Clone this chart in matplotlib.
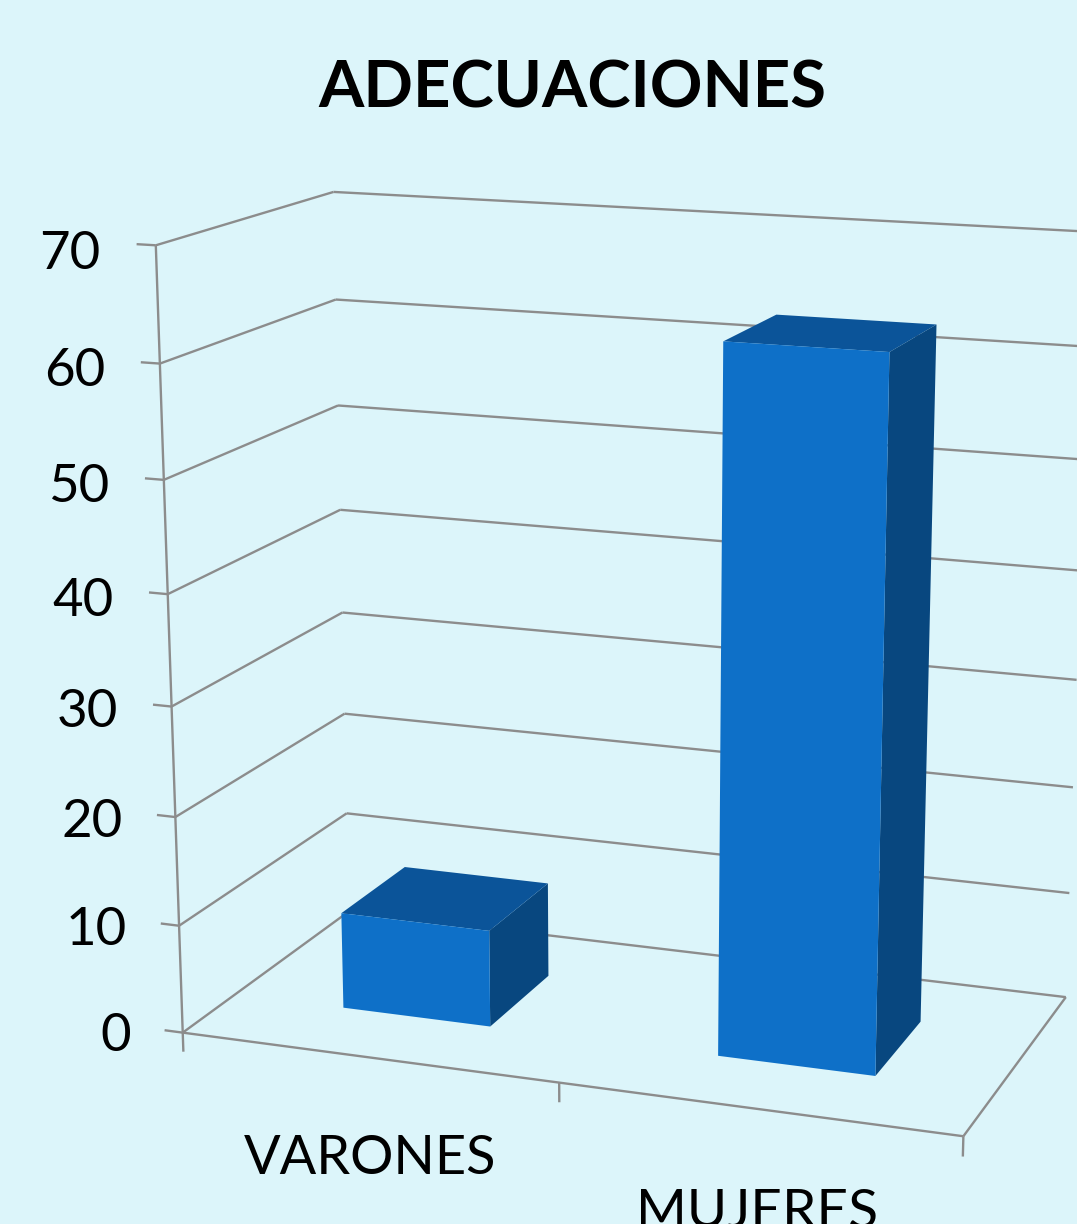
import matplotlib
matplotlib.use('Agg')
import matplotlib.pyplot as plt
import numpy as np
from mpl_toolkits.mplot3d.art3d import Line3DCollection

categories = ['VARONES', 'MUJERES']
values = [9, 63]
z_ticks = [0, 10, 20, 30, 40, 50, 60, 70]

bg = '#DCF5FA'
grid_col = '#8C8C8C'
front_col = '#0E70C8'
top_col = '#0B5499'
side_col = '#08477F'
none_col = (0, 0, 0, 0)

plt.rcParams['font.family'] = ['Lato', 'DejaVu Sans']

# corners seen in the picture (x, y, z, pixel u, pixel v), used to find the camera
wall_pts = [
    (0, 0, 0, 184, 1032), (0, 0, 10, 178, 925), (0, 0, 20, 175, 817), (0, 0, 30, 171, 707),
    (0, 0, 40, 167, 594), (0, 0, 50, 163, 480), (0, 0, 60, 160, 364), (0, 0, 70, 157, 246),
    (0, 1, 0, 349, 914), (0, 1, 10, 347, 813), (0, 1, 20, 345, 713), (0, 1, 30, 343, 612),
    (0, 1, 40, 341, 510), (0, 1, 50, 338, 405), (0, 1, 60, 335, 299), (0, 1, 70, 333, 192),
    (2, 0, 0, 964, 1137), (1, 0, 0, 558, 1082), (2, 1, 0, 1065, 997), (2, 1, 10, 1069, 893),
    (1.3, 0.3, 0, 718, 1055), (1.7, 0.3, 0, 877, 1076), (1.7, 0.7, 0, 920, 1022),
    (1.3, 0.3, 63, 724, 342), (1.7, 0.3, 63, 890, 352), (1.7, 0.7, 63, 936, 324),
]


def fit_camera(pts):
    rows, rhs = [], []
    for X, Y, Z, u, v in pts:
        rows.append([X, Y, Z, 1, 0, 0, 0, 0, -u*X, -u*Y, -u*Z])
        rows.append([0, 0, 0, 0, X, Y, Z, 1, -v*X, -v*Y, -v*Z])
        rhs += [u, v]
    p = np.linalg.lstsq(np.array(rows, float), np.array(rhs, float), rcond=None)[0]
    return np.append(p, 1).reshape(3, 4)


P = fit_camera(wall_pts)
cam = np.array([P[0], P[1], [0, 1, 0, 0], P[2]])


def label(x, y, z, s, size, ha):
    u, v, w = P @ [x, y, z, 1]
    ax.text2D(u/w, v/w, s, transform=ax.transData, fontsize=size, ha=ha, va='center',
              color='black', clip_on=True)


fig = plt.figure(figsize=(10.77, 12.24), dpi=100, facecolor=bg)
# square axes wider than the figure, the back wall runs off the right edge
ax = fig.add_axes([-73.5/1077, 0, 1224/1077, 1], projection='3d', facecolor=bg)
ax.set_axis_off()
ax.computed_zorder = False
ax.get_proj = lambda: cam
ax.viewLim.intervalx = (-73.5, 1150.5)
ax.viewLim.intervaly = (1224, 0)

# walls, gridlines and ticks
segs = []
for z in z_ticks:
    if z > 0:
        segs.append([(0, 0, z), (0, 1, z)])
        segs.append([(0, 1, z), (2, 1, z)])
    segs.append([(-0.05, 0, z), (0, 0, z)])
    label(-0.145, 0, z - 1.05, str(z), 38, 'right')
segs.append([(0, 0, 0), (0, 0, 70)])
for a, b in [((0, 0), (2, 0)), ((2, 0), (2, 1)), ((2, 1), (0, 1)), ((0, 1), (0, 0))]:
    segs.append([(a[0], a[1], 0), (b[0], b[1], 0)])
for x in [0, 1, 2]:
    segs.append([(x, 0, 0), (x, 0, -1.8)])
ax.add_collection3d(Line3DCollection(segs, colors=grid_col, linewidths=1.7, zorder=1), autolim=False)

# bars, hidden faces left transparent (order: bottom, top, front, back, left, right)
xpos = np.arange(len(values)) + 0.3
face_cols = [none_col, top_col, front_col, none_col, none_col, side_col]
ax.bar3d(xpos, np.full(len(values), 0.3), np.zeros(len(values)), 0.4, 0.4, values,
         color=face_cols*len(values), shade=False, edgecolor='none', zorder=2)

label(0.5, 0, -9.5, categories[0], 39, 'center')
label(1.5, 0, -9.35, categories[1], 39.5, 'center')

fig.text(572/1077, 1 - 89/1224, 'ADECUACIONES', fontsize=47, fontweight='bold',
         ha='center', va='center', color='black')

fig.savefig('out.png', dpi=100, facecolor=bg)
